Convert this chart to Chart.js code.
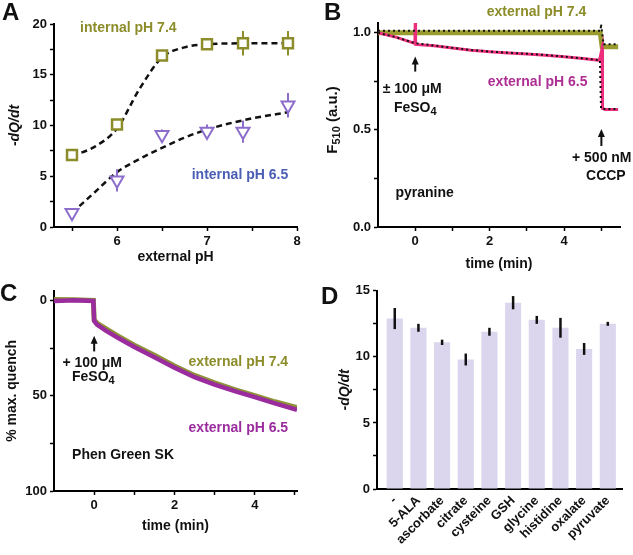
<!DOCTYPE html>
<html lang="en">
<head>
<meta charset="UTF-8">
<title>Fe uptake panels</title>
<script src="https://cdn.jsdelivr.net/npm/chart.js/dist/chart.umd.min.js"></script>
<style>
  body { margin: 0; background: #fff; }
  #fig { position: relative; width: 633px; height: 555px; overflow: hidden; font-family: Arial, "Liberation Sans", sans-serif; }
  #fig canvas { position: absolute; }
  .lbl { position: absolute; font-weight: bold; font-size: 24px; line-height: 24px; color: #111; }
</style>
</head>
<body>
<div id="fig">
  <canvas id="chartA" width="320" height="280" style="left:0;top:0"></canvas>
  <canvas id="chartB" width="313" height="280" style="left:320px;top:0"></canvas>
  <canvas id="chartC" width="320" height="275" style="left:0;top:280px"></canvas>
  <canvas id="chartD" width="313" height="275" style="left:320px;top:280px"></canvas>
  <div class="lbl" style="left:2px;top:0">A</div>
  <div class="lbl" style="left:324px;top:0">B</div>
  <div class="lbl" style="left:0;top:281px">C</div>
  <div class="lbl" style="left:321px;top:284px">D</div>
</div>
<script>
// ---- panel A: -dQ/dt vs external pH
const phExt = [5.5, 6, 6.5, 7, 7.4, 7.9];
const rateIn74 = [7.1, 10.1, 16.9, 18.0, 18.1, 18.1];
const errIn74 = [0.3, 0.5, 0.5, 0.5, 1.2, 1.2];
const rateIn65 = [1.4, 4.6, 9.1, 9.4, 9.4, 12.0];
const errIn65 = [0.4, 1.1, 0.5, 0.7, 1.1, 1.2];
const fitPh = [5.5, 5.75, 6.0, 6.25, 6.5, 6.75, 7.0, 7.5, 7.9];
const fit74 = [7.0, 7.9, 9.7, 13.6, 16.7, 17.7, 18.0, 18.1, 18.1];
const fit65 = [1.4, 3.4, 5.4, 6.7, 7.8, 8.8, 9.6, 10.7, 11.3];
const aXTicks = [5.5, 6, 6.5, 7, 7.5, 8];
const aXLabels = [6, 7, 8];
const aYTicks = [0, 2.5, 5, 7.5, 10, 12.5, 15, 17.5, 20];
const aYLabels = [0, 5, 10, 15, 20];

// ---- panel B: pyranine F510 traces
const bTime74 = [-1, 0, 1, 2, 3, 4, 4.97, 5.02, 5.45];
const bF74 = [1.0, 1.0, 1.0, 1.0, 1.0, 1.0, 1.0, 0.928, 0.928];
const bTime65 = [-1, -0.5, -0.01, 0, 0.01, 0.5, 1, 1.5, 2, 2.5, 3, 3.5, 4, 4.5, 4.95, 5.02, 5.03, 5.1, 5.45];
const bF65 = [1.0, 0.976, 0.945, 1.05, 0.94, 0.933, 0.921, 0.91, 0.902, 0.896, 0.891, 0.884, 0.876, 0.867, 0.858, 0.92, 0.61, 0.605, 0.605];
const bFitTime74 = [-1, 4.98, 4.99, 5.06, 5.45];
const bFit74 = [1.01, 1.01, 1.045, 0.94, 0.94];
const bFitTime65 = [-1, -0.5, 0, 0.5, 1, 1.5, 2, 2.5, 3, 3.5, 4, 4.5, 4.96, 4.99, 5.08, 5.45];
const bFit65 = [1.0, 0.976, 0.946, 0.934, 0.922, 0.911, 0.903, 0.897, 0.892, 0.885, 0.877, 0.868, 0.859, 0.61, 0.607, 0.607];
const bXTicks = [0, 1, 2, 3, 4, 5];
const bXLabels = [0, 2, 4];
const bYTicks = [0, 0.25, 0.5, 0.75, 1.0];
const bYLabels = [0, 0.5, 1.0];

// ---- panel C: Phen Green SK quench traces
const cTime = [-1, -0.5, -0.02, 0, 0.07, 0.3, 0.6, 1, 1.5, 2, 2.5, 3, 3.5, 4, 4.5, 5.05];
const cQ65 = [0.3, 0.0, 0.3, 10.8, 12.7, 16.0, 19.8, 24.5, 29.8, 35.3, 40.3, 44.2, 47.6, 50.8, 54.0, 57.5];
const cQ74 = [-0.5, -0.3, 0.0, 10.3, 12.0, 15.0, 18.8, 23.5, 28.8, 34.4, 39.4, 43.3, 46.8, 50.0, 53.2, 56.3];
const cXTicks = [0, 1, 2, 3, 4, 5];
const cXLabels = [0, 2, 4];
const cYTicks = [0, 25, 50, 75, 100];
const cYLabels = [0, 50, 100];

// ---- panel D: rate with additives
const addCats = ['-', '5-ALA', 'ascorbate', 'citrate', 'cysteine', 'GSH', 'glycine', 'histidine', 'oxalate', 'pyruvate'];
const addRate = [12.9, 12.2, 11.1, 9.8, 11.9, 14.1, 12.8, 12.2, 10.6, 12.5];
const addErr = [0.8, 0.3, 0.2, 0.45, 0.3, 0.5, 0.3, 0.75, 0.45, 0.15];
const dYTicks = [0, 2.5, 5, 7.5, 10, 12.5, 15];
const dYLabels = [0, 5, 10, 15];

const FONT = "Arial, 'Liberation Sans', sans-serif";
const OLIVE = '#8c8d2a';
const PURPLE = '#8c6dcc';
const BLUE = '#4a5db5';
const PINK = '#ec2f7d';
const MAGENTA = '#ae2f93';
const VIOLET = '#9a2c9e';
const BAR = '#dcd5ee';

const pairs = (xs, ys) => xs.map((x, i) => ({ x: x, y: ys[i] }));

function axis(ticks, labels, fmt, extra) {
  const a = {
    type: 'linear',
    grid: { drawOnChartArea: false, drawTicks: true, tickLength: 4, tickColor: '#000', tickWidth: 1.5 },
    border: { display: true, color: '#000', width: 2 },
    afterBuildTicks: s => { s.ticks = ticks.map(v => ({ value: v })); },
    ticks: {
      autoSkip: false, maxRotation: 0, padding: 3, color: '#111',
      font: { family: FONT, size: 13, weight: 'bold' },
      callback: v => labels.some(l => Math.abs(l - v) < 1e-9) ? fmt(v) : ''
    }
  };
  return Object.assign(a, extra);
}

function title(text, pad, italic) {
  return { display: true, text: text, color: '#111', padding: pad,
    font: { family: FONT, size: 14, weight: 'bold', style: italic ? 'italic' : 'normal' } };
}

// draws runs of text, some as subscripts
function drawRich(ctx, parts, x, y, align, color, size) {
  const main = 'bold ' + size + 'px ' + FONT;
  const sub = 'bold ' + Math.round(size * 0.75) + 'px ' + FONT;
  let w = 0;
  parts.forEach(p => { ctx.font = p[1] ? sub : main; w += ctx.measureText(p[0]).width; });
  let cx = align === 'center' ? x - w / 2 : (align === 'right' ? x - w : x);
  ctx.fillStyle = color;
  ctx.textBaseline = 'middle';
  ctx.textAlign = 'left';
  parts.forEach(p => {
    ctx.font = p[1] ? sub : main;
    ctx.fillText(p[0], cx, p[1] ? y + 4 : y);
    cx += ctx.measureText(p[0]).width;
  });
}

const errBars = {
  id: 'errBars',
  beforeDatasetDraw(chart, args, opts) { if (opts.under) drawErr(chart, args.index, opts); },
  afterDatasetDraw(chart, args, opts) { if (!opts.under) drawErr(chart, args.index, opts); }
};
function drawErr(chart, index, opts) {
  const ds = chart.data.datasets[index];
  if (!ds.errors) return;
  const meta = chart.getDatasetMeta(index);
  const ys = chart.scales.y, ctx = chart.ctx;
  ctx.save();
  ctx.strokeStyle = opts.color || ds.borderColor;
  ctx.lineWidth = opts.width || 2;
  meta.data.forEach((el, i) => {
    const v = ds.data[i].y, e = ds.errors[i];
    ctx.beginPath();
    ctx.moveTo(el.x, ys.getPixelForValue(v - e));
    ctx.lineTo(el.x, ys.getPixelForValue(v + e));
    ctx.stroke();
  });
  ctx.restore();
}

const notes = {
  id: 'notes',
  afterDraw(chart, args, opts) {
    const ctx = chart.ctx, xs = chart.scales.x, ys = chart.scales.y;
    ctx.save();
    (opts.items || []).forEach(n => {
      const px = xs.getPixelForValue(n.x);
      if (n.arrow) {
        const y0 = ys.getPixelForValue(n.from), y1 = ys.getPixelForValue(n.to);
        const dir = y1 < y0 ? 1 : -1;
        ctx.strokeStyle = '#111'; ctx.fillStyle = '#111'; ctx.lineWidth = 2;
        ctx.beginPath(); ctx.moveTo(px, y0); ctx.lineTo(px, y1 + dir * 6); ctx.stroke();
        ctx.beginPath(); ctx.moveTo(px, y1); ctx.lineTo(px - 3.5, y1 + dir * 8); ctx.lineTo(px + 3.5, y1 + dir * 8); ctx.closePath(); ctx.fill();
      } else {
        drawRich(ctx, n.parts, px, ys.getPixelForValue(n.y), n.align || 'left', n.color || '#111', n.size || 14);
      }
    });
    if (opts.yTitle) {
      const a = chart.chartArea;
      ctx.translate(opts.yTitle.x, opts.yTitle.y || (a.top + a.bottom) / 2);
      ctx.rotate(-Math.PI / 2);
      drawRich(ctx, opts.yTitle.parts, 0, 0, 'center', '#111', 15);
    }
    ctx.restore();
  }
};

Chart.register(errBars, notes);
Chart.defaults.animation = false;
Chart.defaults.font.family = FONT;

const base = (pad) => ({
  responsive: false,
  layout: { padding: pad },
  plugins: { legend: { display: false }, tooltip: { enabled: false } }
});

// ---------- A
const optA = base({ left: 0, top: 24, right: 23, bottom: 0 });
optA.scales = {
  x: axis(aXTicks, aXLabels, v => String(v), { min: 5.3, max: 8, title: title('external pH', { top: 0, bottom: 14 }), afterFit: s => { s.height = 53; } }),
  y: axis(aYTicks, aYLabels, v => String(v), { min: 0, max: 20, title: title('-dQ/dt', { top: 7, bottom: 0 }, true), afterFit: s => { s.width = 54; } })
};
optA.plugins.errBars = { under: true, width: 2 };
optA.plugins.notes = { items: [
  { x: 5.59, y: 19.6, parts: [['internal pH 7.4']], color: OLIVE },
  { x: 6.83, y: 5.1, parts: [['internal pH 6.5']], color: BLUE }
] };
new Chart(document.getElementById('chartA'), {
  type: 'scatter',
  data: { datasets: [
    { label: 'internal pH 7.4', data: pairs(phExt, rateIn74), errors: errIn74, pointStyle: 'rect', pointRadius: 7,
      pointBorderWidth: 2.5, borderColor: OLIVE, pointBackgroundColor: '#fff', order: 0 },
    { label: 'internal pH 6.5', data: pairs(phExt, rateIn65), errors: errIn65, pointStyle: 'triangle', pointRotation: 180, pointRadius: 7.5,
      pointBorderWidth: 2, borderColor: PURPLE, pointBackgroundColor: '#fff', order: 1 },
    { label: 'fit 7.4', data: pairs(fitPh, fit74), showLine: true, pointRadius: 0, borderColor: '#111', borderWidth: 2.5,
      borderDash: [6, 4], cubicInterpolationMode: 'monotone', order: 2 },
    { label: 'fit 6.5', data: pairs(fitPh, fit65), showLine: true, pointRadius: 0, borderColor: '#111', borderWidth: 2.5,
      borderDash: [6, 4], cubicInterpolationMode: 'monotone', order: 3 }
  ] },
  options: optA
});

// ---------- B
const optB = base({ left: 0, top: 23, right: 13, bottom: 0 });
optB.scales = {
  x: axis(bXTicks, bXLabels, v => String(v), { min: -1, max: 5.5, title: title('time (min)', { top: 0, bottom: 7 }), afterFit: s => { s.height = 53; } }),
  y: axis(bYTicks, bYLabels, v => v.toFixed(1), { min: 0, max: 1.05, afterFit: s => { s.width = 58; } })
};
optB.plugins.notes = {
  yTitle: { x: 13, y: 120, parts: [['F', 0], ['510', 1], [' (a.u.)', 0]] },
  items: [
    { x: 1.92, y: 1.105, parts: [['external pH 7.4']], color: OLIVE },
    { x: 1.95, y: 0.748, parts: [['external pH 6.5']], color: MAGENTA },
    { x: -0.08, y: 0.707, parts: [['± 100 μM']], align: 'center' },
    { x: 0, y: 0.613, parts: [['FeSO', 0], ['4', 1]], align: 'center' },
    { arrow: true, x: 0, from: 0.80, to: 0.877 },
    { x: -0.53, y: 0.174, parts: [['pyranine']] },
    { arrow: true, x: 5.0, from: 0.417, to: 0.505 },
    { x: 5.01, y: 0.355, parts: [['+ 500 nM']], align: 'center' },
    { x: 5.12, y: 0.262, parts: [['CCCP']], align: 'center' }
  ] };
const trace = (d, color, w, order, dash) => ({ data: d, showLine: true, pointRadius: 0, borderColor: color,
  borderWidth: w, borderDash: dash || [], tension: 0, order: order });
new Chart(document.getElementById('chartB'), {
  type: 'scatter',
  data: { datasets: [
    trace(pairs(bTime74, bF74), '#9a9b2e', 5, 3),
    trace(pairs(bTime65, bF65), PINK, 3, 2),
    trace(pairs(bFitTime74, bFit74), '#111', 2, 0, [2, 3]),
    trace(pairs(bFitTime65, bFit65), '#111', 2, 1, [2, 3])
  ] },
  options: optB
});

// ---------- C
const optC = base({ left: 0, top: 7, right: 23, bottom: 0 });
optC.scales = {
  x: axis(cXTicks, cXLabels, v => String(v), { min: -1, max: 5.05, title: title('time (min)', { top: 0, bottom: 20 }), afterFit: s => { s.height = 64; } }),
  y: axis(cYTicks, cYLabels, v => String(v), { min: -5, max: 100, reverse: true, title: title('% max. quench', { top: 4, bottom: 0 }), afterFit: s => { s.width = 54; } })
};
optC.plugins.notes = { items: [
  { x: -0.05, y: 33, parts: [['+ 100 μM']], align: 'center' },
  { x: -0.02, y: 40.2, parts: [['FeSO', 0], ['4', 1]], align: 'center' },
  { arrow: true, x: 0, from: 26.8, to: 18.6 },
  { x: 2.35, y: 32.5, parts: [['external pH 7.4']], color: OLIVE },
  { x: 2.35, y: 67, parts: [['external pH 6.5']], color: VIOLET },
  { x: -0.55, y: 81.4, parts: [['Phen Green SK']] }
] };
new Chart(document.getElementById('chartC'), {
  type: 'scatter',
  data: { datasets: [
    trace(pairs(cTime, cQ74), '#8e9236', 5, 1),
    trace(pairs(cTime, cQ65), VIOLET, 4.5, 0)
  ] },
  options: optC
});

// ---------- D
const optD = base({ left: 0, top: 7, right: 11, bottom: 0 });
optD.scales = {
  x: {
    type: 'linear', min: -0.75, max: 9.6, offset: false,
    grid: { display: true, drawOnChartArea: false, drawTicks: false, offset: false },
    border: { display: true, color: '#000', width: 2 },
    afterBuildTicks: s => { s.ticks = addCats.map((c, i) => ({ value: i })); },
    afterFit: s => { s.height = 66; },
    ticks: { autoSkip: false, minRotation: 45, maxRotation: 45, padding: 4, color: '#111',
      font: { family: FONT, size: 13, weight: 'bold' }, callback: v => addCats[v] }
  },
  y: axis(dYTicks, dYLabels, v => String(v), { min: 0, max: 15, title: title('-dQ/dt', { top: 17, bottom: 0 }, true), afterFit: s => { s.width = 57; } })
};
optD.plugins.errBars = { under: false, width: 2.5, color: '#111' };
new Chart(document.getElementById('chartD'), {
  type: 'bar',
  data: { datasets: [
    { data: pairs(addCats.map((c, i) => i), addRate), errors: addErr, backgroundColor: BAR,
      barPercentage: 0.68, categoryPercentage: 1 }
  ] },
  options: optD
});
</script>
</body>
</html>
